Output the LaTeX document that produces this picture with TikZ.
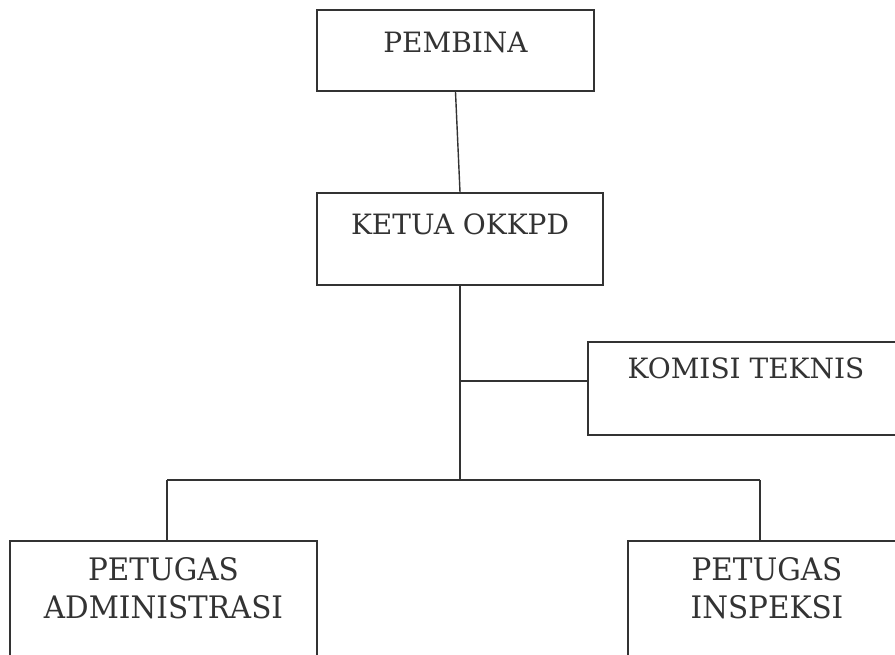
\documentclass[tikz,border=0pt]{standalone}
\usepackage{fontspec}
\setmainfont{DejaVu Serif}
\definecolor{ink}{HTML}{333333}
\tikzset{
  orgbox/.style={draw=ink, line width=2pt, rectangle, inner sep=0pt, text=ink,
    font=\fontsize{28}{30}\selectfont},
  lowbox/.style={orgbox, font=\fontsize{31}{38}\selectfont},
  link/.style={draw=ink, line width=1.4pt}
}
\newcommand{\boxtext}[2]{\raisebox{#1}[0pt][0pt]{#2}}
\newcommand{\twoline}[3]{\raisebox{#1}[0pt][0pt]{\scalebox{0.95}[1]{\begin{tabular}[t]{@{}c@{}}#2\\#3\end{tabular}}}}
\begin{document}
\begin{tikzpicture}[x=1pt,y=-1pt]
\useasboundingbox (0,0) rectangle (895,654);
\clip (0,0) rectangle (895,654);
\fill[white] (0,0) rectangle (895,654);
\node[orgbox, minimum width=277pt, minimum height=81pt] (pembina) at (455.5,50.5) {\boxtext{-1.7pt}{PEMBINA}};
\node[orgbox, minimum width=286pt, minimum height=92pt] (ketua) at (460,239) {\boxtext{4.8pt}{KETUA OKKPD}};
\node[orgbox, minimum width=316pt, minimum height=93pt] (komisi) at (746,388.5) {\boxtext{9.8pt}{KOMISI TEKNIS}};
\node[lowbox, minimum width=307pt, minimum height=139pt] (admin) at (163.5,610.5) {\twoline{30pt}{PETUGAS}{ADMINISTRASI}};
\node[lowbox, minimum width=278pt, minimum height=139pt] (insp) at (767,610.5) {\twoline{30pt}{PETUGAS}{INSPEKSI}};
\coordinate (kj) at (460,381);
\coordinate (bus) at (460,480);
\coordinate (al) at (167,480);
\coordinate (ar) at (760,480);
\draw[link] (pembina.south) -- (ketua.north);
\draw[link] (ketua.south) -- (bus);
\draw[link] (kj) -- (kj -| komisi.west);
\draw[link] (al) -- (ar);
\draw[link] (al) -- (al |- admin.north);
\draw[link] (ar) -- (ar |- insp.north);
\end{tikzpicture}
\end{document}
